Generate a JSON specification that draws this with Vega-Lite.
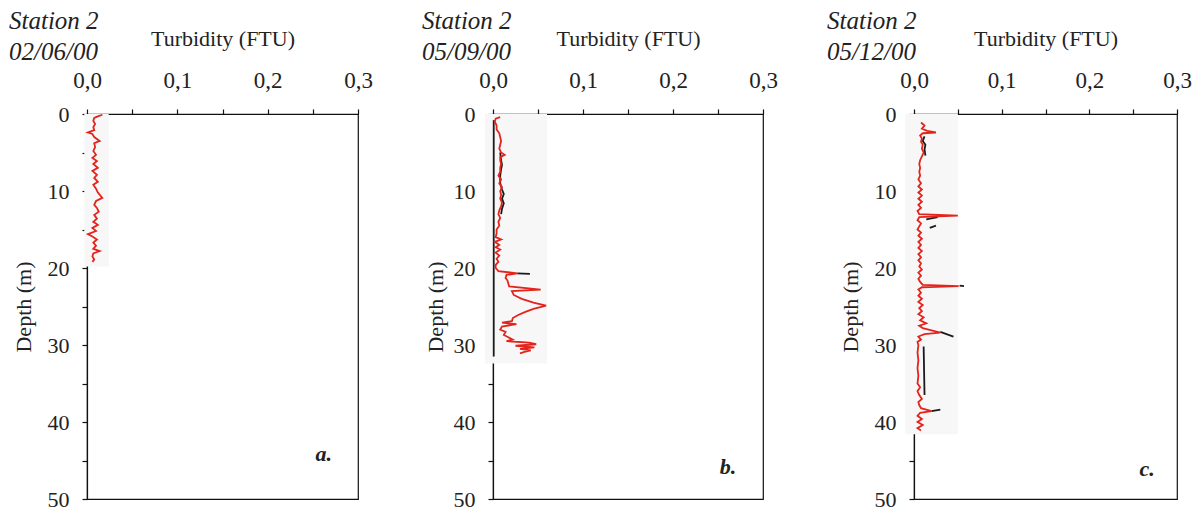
{
  "$schema": "https://vega.github.io/schema/vega-lite/v6.json",
  "padding": {"left": 8, "top": 8, "right": 0, "bottom": 2},
  "background": "white",
  "config": {
    "font": "Liberation Serif",
    "view": {"stroke": "#111", "strokeWidth": 1.2},
    "concat": {"spacing": 48},
    "title": {"font": "Liberation Serif", "fontStyle": "italic", "fontWeight": "normal", "fontSize": 25, "lineHeight": 31, "color": "#222", "anchor": "start", "frame": "group", "offset": -38},
    "axis": {
      "grid": false, "domainColor": "#111", "domainWidth": 1.2, "tickColor": "#111", "tickWidth": 1.2, "tickSize": 5,
      "labelFont": "Liberation Serif", "labelFontSize": 23, "labelColor": "#222", "labelFlush": false, "labelOverlap": false,
      "titleFont": "Liberation Serif", "titleFontSize": 22, "titleFontWeight": "normal", "titleColor": "#222"
    }
  },
  "datasets": {
    "profiles": [
      {"panel": "a", "series": "red", "seg": "r", "depth": 0.1, "turb": 0.017},
      {"panel": "a", "series": "red", "seg": "r", "depth": 0.3, "turb": 0.012},
      {"panel": "a", "series": "red", "seg": "r", "depth": 0.5, "turb": 0.008},
      {"panel": "a", "series": "red", "seg": "r", "depth": 0.9, "turb": 0.007},
      {"panel": "a", "series": "red", "seg": "r", "depth": 1.3, "turb": 0.009},
      {"panel": "a", "series": "red", "seg": "r", "depth": 1.7, "turb": 0.007},
      {"panel": "a", "series": "red", "seg": "r", "depth": 2.1, "turb": 0.008},
      {"panel": "a", "series": "red", "seg": "r", "depth": 2.4, "turb": 0.001},
      {"panel": "a", "series": "red", "seg": "r", "depth": 2.6, "turb": 0.006},
      {"panel": "a", "series": "red", "seg": "r", "depth": 3.0, "turb": 0.008},
      {"panel": "a", "series": "red", "seg": "r", "depth": 3.5, "turb": 0.014},
      {"panel": "a", "series": "red", "seg": "r", "depth": 3.8, "turb": 0.008},
      {"panel": "a", "series": "red", "seg": "r", "depth": 4.3, "turb": 0.009},
      {"panel": "a", "series": "red", "seg": "r", "depth": 4.8, "turb": 0.007},
      {"panel": "a", "series": "red", "seg": "r", "depth": 5.3, "turb": 0.010},
      {"panel": "a", "series": "red", "seg": "r", "depth": 5.7, "turb": 0.006},
      {"panel": "a", "series": "red", "seg": "r", "depth": 6.1, "turb": 0.011},
      {"panel": "a", "series": "red", "seg": "r", "depth": 6.5, "turb": 0.007},
      {"panel": "a", "series": "red", "seg": "r", "depth": 7.0, "turb": 0.012},
      {"panel": "a", "series": "red", "seg": "r", "depth": 7.4, "turb": 0.006},
      {"panel": "a", "series": "red", "seg": "r", "depth": 7.9, "turb": 0.011},
      {"panel": "a", "series": "red", "seg": "r", "depth": 8.3, "turb": 0.008},
      {"panel": "a", "series": "red", "seg": "r", "depth": 8.8, "turb": 0.012},
      {"panel": "a", "series": "red", "seg": "r", "depth": 9.2, "turb": 0.007},
      {"panel": "a", "series": "red", "seg": "r", "depth": 9.7, "turb": 0.010},
      {"panel": "a", "series": "red", "seg": "r", "depth": 10.2, "turb": 0.012},
      {"panel": "a", "series": "red", "seg": "r", "depth": 10.9, "turb": 0.017},
      {"panel": "a", "series": "red", "seg": "r", "depth": 11.3, "turb": 0.010},
      {"panel": "a", "series": "red", "seg": "r", "depth": 11.8, "turb": 0.008},
      {"panel": "a", "series": "red", "seg": "r", "depth": 12.2, "turb": 0.011},
      {"panel": "a", "series": "red", "seg": "r", "depth": 12.7, "turb": 0.013},
      {"panel": "a", "series": "red", "seg": "r", "depth": 13.1, "turb": 0.008},
      {"panel": "a", "series": "red", "seg": "r", "depth": 13.6, "turb": 0.011},
      {"panel": "a", "series": "red", "seg": "r", "depth": 14.0, "turb": 0.007},
      {"panel": "a", "series": "red", "seg": "r", "depth": 14.4, "turb": 0.012},
      {"panel": "a", "series": "red", "seg": "r", "depth": 14.8, "turb": 0.006},
      {"panel": "a", "series": "red", "seg": "r", "depth": 15.2, "turb": 0.010},
      {"panel": "a", "series": "red", "seg": "r", "depth": 15.6, "turb": 0.001},
      {"panel": "a", "series": "red", "seg": "r", "depth": 15.9, "turb": 0.006},
      {"panel": "a", "series": "red", "seg": "r", "depth": 16.3, "turb": 0.011},
      {"panel": "a", "series": "red", "seg": "r", "depth": 16.7, "turb": 0.007},
      {"panel": "a", "series": "red", "seg": "r", "depth": 17.1, "turb": 0.010},
      {"panel": "a", "series": "red", "seg": "r", "depth": 17.5, "turb": 0.007},
      {"panel": "a", "series": "red", "seg": "r", "depth": 17.8, "turb": 0.014},
      {"panel": "a", "series": "red", "seg": "r", "depth": 18.1, "turb": 0.007},
      {"panel": "a", "series": "red", "seg": "r", "depth": 18.5, "turb": 0.006},
      {"panel": "a", "series": "red", "seg": "r", "depth": 18.9, "turb": 0.008},
      {"panel": "a", "series": "red", "seg": "r", "depth": 19.2, "turb": 0.006},

      {"panel": "b", "series": "black", "seg": "b1", "depth": 5.0, "turb": 0.008},
      {"panel": "b", "series": "black", "seg": "b1", "depth": 6.0, "turb": 0.009},
      {"panel": "b", "series": "black", "seg": "b1", "depth": 6.6, "turb": 0.010},
      {"panel": "b", "series": "black", "seg": "b1", "depth": 7.2, "turb": 0.009},
      {"panel": "b", "series": "black", "seg": "b1", "depth": 8.0, "turb": 0.008},
      {"panel": "b", "series": "black", "seg": "b1", "depth": 9.0, "turb": 0.008},
      {"panel": "b", "series": "black", "seg": "b1", "depth": 9.8, "turb": 0.010},
      {"panel": "b", "series": "black", "seg": "b1", "depth": 10.4, "turb": 0.012},
      {"panel": "b", "series": "black", "seg": "b1", "depth": 11.0, "turb": 0.010},
      {"panel": "b", "series": "black", "seg": "b1", "depth": 11.6, "turb": 0.012},
      {"panel": "b", "series": "black", "seg": "b1", "depth": 12.3, "turb": 0.010},
      {"panel": "b", "series": "black", "seg": "b1", "depth": 13.0, "turb": 0.009},
      {"panel": "b", "series": "black", "seg": "b2", "depth": 0.8, "turb": 0.0008},
      {"panel": "b", "series": "black", "seg": "b2", "depth": 31.5, "turb": 0.0008},
      {"panel": "b", "series": "black", "seg": "b3", "depth": 20.7, "turb": 0.027},
      {"panel": "b", "series": "black", "seg": "b3", "depth": 20.75, "turb": 0.041},

      {"panel": "b", "series": "red", "seg": "r", "depth": 0.4, "turb": 0.008},
      {"panel": "b", "series": "red", "seg": "r", "depth": 0.6, "turb": 0.003},
      {"panel": "b", "series": "red", "seg": "r", "depth": 1.0, "turb": 0.002},
      {"panel": "b", "series": "red", "seg": "r", "depth": 1.5, "turb": 0.004},
      {"panel": "b", "series": "red", "seg": "r", "depth": 2.0, "turb": 0.004},
      {"panel": "b", "series": "red", "seg": "r", "depth": 2.5, "turb": 0.007},
      {"panel": "b", "series": "red", "seg": "r", "depth": 3.0, "turb": 0.008},
      {"panel": "b", "series": "red", "seg": "r", "depth": 3.5, "turb": 0.009},
      {"panel": "b", "series": "red", "seg": "r", "depth": 4.0, "turb": 0.008},
      {"panel": "b", "series": "red", "seg": "r", "depth": 4.5, "turb": 0.007},
      {"panel": "b", "series": "red", "seg": "r", "depth": 5.0, "turb": 0.009},
      {"panel": "b", "series": "red", "seg": "r", "depth": 5.3, "turb": 0.013},
      {"panel": "b", "series": "red", "seg": "r", "depth": 5.6, "turb": 0.008},
      {"panel": "b", "series": "red", "seg": "r", "depth": 6.0, "turb": 0.008},
      {"panel": "b", "series": "red", "seg": "r", "depth": 6.5, "turb": 0.009},
      {"panel": "b", "series": "red", "seg": "r", "depth": 7.0, "turb": 0.008},
      {"panel": "b", "series": "red", "seg": "r", "depth": 7.5, "turb": 0.008},
      {"panel": "b", "series": "red", "seg": "r", "depth": 8.0, "turb": 0.006},
      {"panel": "b", "series": "red", "seg": "r", "depth": 8.5, "turb": 0.009},
      {"panel": "b", "series": "red", "seg": "r", "depth": 9.0, "turb": 0.007},
      {"panel": "b", "series": "red", "seg": "r", "depth": 9.5, "turb": 0.010},
      {"panel": "b", "series": "red", "seg": "r", "depth": 10.0, "turb": 0.008},
      {"panel": "b", "series": "red", "seg": "r", "depth": 10.5, "turb": 0.009},
      {"panel": "b", "series": "red", "seg": "r", "depth": 11.0, "turb": 0.008},
      {"panel": "b", "series": "red", "seg": "r", "depth": 11.5, "turb": 0.010},
      {"panel": "b", "series": "red", "seg": "r", "depth": 12.0, "turb": 0.009},
      {"panel": "b", "series": "red", "seg": "r", "depth": 12.5, "turb": 0.007},
      {"panel": "b", "series": "red", "seg": "r", "depth": 13.0, "turb": 0.006},
      {"panel": "b", "series": "red", "seg": "r", "depth": 13.5, "turb": 0.008},
      {"panel": "b", "series": "red", "seg": "r", "depth": 14.0, "turb": 0.006},
      {"panel": "b", "series": "red", "seg": "r", "depth": 14.5, "turb": 0.007},
      {"panel": "b", "series": "red", "seg": "r", "depth": 15.0, "turb": 0.004},
      {"panel": "b", "series": "red", "seg": "r", "depth": 15.5, "turb": 0.004},
      {"panel": "b", "series": "red", "seg": "r", "depth": 16.0, "turb": 0.003},
      {"panel": "b", "series": "red", "seg": "r", "depth": 16.3, "turb": 0.009},
      {"panel": "b", "series": "red", "seg": "r", "depth": 16.6, "turb": 0.002},
      {"panel": "b", "series": "red", "seg": "r", "depth": 17.0, "turb": 0.007},
      {"panel": "b", "series": "red", "seg": "r", "depth": 17.3, "turb": 0.003},
      {"panel": "b", "series": "red", "seg": "r", "depth": 17.6, "turb": 0.008},
      {"panel": "b", "series": "red", "seg": "r", "depth": 18.0, "turb": 0.003},
      {"panel": "b", "series": "red", "seg": "r", "depth": 18.4, "turb": 0.007},
      {"panel": "b", "series": "red", "seg": "r", "depth": 18.8, "turb": 0.004},
      {"panel": "b", "series": "red", "seg": "r", "depth": 19.2, "turb": 0.006},
      {"panel": "b", "series": "red", "seg": "r", "depth": 19.6, "turb": 0.003},
      {"panel": "b", "series": "red", "seg": "r", "depth": 20.0, "turb": 0.003},
      {"panel": "b", "series": "red", "seg": "r", "depth": 20.4, "turb": 0.006},
      {"panel": "b", "series": "red", "seg": "r", "depth": 20.7, "turb": 0.027},
      {"panel": "b", "series": "red", "seg": "r", "depth": 20.9, "turb": 0.015},
      {"panel": "b", "series": "red", "seg": "r", "depth": 21.3, "turb": 0.014},
      {"panel": "b", "series": "red", "seg": "r", "depth": 21.6, "turb": 0.016},
      {"panel": "b", "series": "red", "seg": "r", "depth": 22.0, "turb": 0.017},
      {"panel": "b", "series": "red", "seg": "r", "depth": 22.4, "turb": 0.018},
      {"panel": "b", "series": "red", "seg": "r", "depth": 22.8, "turb": 0.053},
      {"panel": "b", "series": "red", "seg": "r", "depth": 23.0, "turb": 0.021},
      {"panel": "b", "series": "red", "seg": "r", "depth": 23.5, "turb": 0.023},
      {"panel": "b", "series": "red", "seg": "r", "depth": 24.0, "turb": 0.032},
      {"panel": "b", "series": "red", "seg": "r", "depth": 24.5, "turb": 0.045},
      {"panel": "b", "series": "red", "seg": "r", "depth": 24.9, "turb": 0.059},
      {"panel": "b", "series": "red", "seg": "r", "depth": 25.3, "turb": 0.045},
      {"panel": "b", "series": "red", "seg": "r", "depth": 25.7, "turb": 0.036},
      {"panel": "b", "series": "red", "seg": "r", "depth": 26.1, "turb": 0.028},
      {"panel": "b", "series": "red", "seg": "r", "depth": 26.5, "turb": 0.022},
      {"panel": "b", "series": "red", "seg": "r", "depth": 26.9, "turb": 0.021},
      {"panel": "b", "series": "red", "seg": "r", "depth": 27.1, "turb": 0.010},
      {"panel": "b", "series": "red", "seg": "r", "depth": 27.3, "turb": 0.026},
      {"panel": "b", "series": "red", "seg": "r", "depth": 27.6, "turb": 0.010},
      {"panel": "b", "series": "red", "seg": "r", "depth": 28.0, "turb": 0.008},
      {"panel": "b", "series": "red", "seg": "r", "depth": 28.3, "turb": 0.014},
      {"panel": "b", "series": "red", "seg": "r", "depth": 28.7, "turb": 0.012},
      {"panel": "b", "series": "red", "seg": "r", "depth": 29.0, "turb": 0.017},
      {"panel": "b", "series": "red", "seg": "r", "depth": 29.3, "turb": 0.022},
      {"panel": "b", "series": "red", "seg": "r", "depth": 29.5, "turb": 0.015},
      {"panel": "b", "series": "red", "seg": "r", "depth": 29.7, "turb": 0.040},
      {"panel": "b", "series": "red", "seg": "r", "depth": 29.9, "turb": 0.048},
      {"panel": "b", "series": "red", "seg": "r", "depth": 30.1, "turb": 0.025},
      {"panel": "b", "series": "red", "seg": "r", "depth": 30.3, "turb": 0.046},
      {"panel": "b", "series": "red", "seg": "r", "depth": 30.5, "turb": 0.030},
      {"panel": "b", "series": "red", "seg": "r", "depth": 30.7, "turb": 0.042},
      {"panel": "b", "series": "red", "seg": "r", "depth": 30.9, "turb": 0.035},
      {"panel": "b", "series": "red", "seg": "r", "depth": 31.1, "turb": 0.030},

      {"panel": "c", "series": "black", "seg": "c1", "depth": 2.9, "turb": 0.012},
      {"panel": "c", "series": "black", "seg": "c1", "depth": 3.5, "turb": 0.010},
      {"panel": "c", "series": "black", "seg": "c1", "depth": 4.0, "turb": 0.013},
      {"panel": "c", "series": "black", "seg": "c1", "depth": 4.6, "turb": 0.012},
      {"panel": "c", "series": "black", "seg": "c1", "depth": 5.4, "turb": 0.013},
      {"panel": "c", "series": "black", "seg": "c2", "depth": 13.4, "turb": 0.027},
      {"panel": "c", "series": "black", "seg": "c2", "depth": 13.7, "turb": 0.014},
      {"panel": "c", "series": "black", "seg": "c3", "depth": 14.5, "turb": 0.025},
      {"panel": "c", "series": "black", "seg": "c3", "depth": 14.8, "turb": 0.018},
      {"panel": "c", "series": "black", "seg": "c4", "depth": 22.3, "turb": 0.052},
      {"panel": "c", "series": "black", "seg": "c4", "depth": 22.35, "turb": 0.057},
      {"panel": "c", "series": "black", "seg": "c5", "depth": 28.3, "turb": 0.030},
      {"panel": "c", "series": "black", "seg": "c5", "depth": 28.9, "turb": 0.045},
      {"panel": "c", "series": "black", "seg": "c6", "depth": 30.2, "turb": 0.011},
      {"panel": "c", "series": "black", "seg": "c6", "depth": 36.5, "turb": 0.012},
      {"panel": "c", "series": "black", "seg": "c7", "depth": 38.4, "turb": 0.030},
      {"panel": "c", "series": "black", "seg": "c7", "depth": 38.6, "turb": 0.020},

      {"panel": "c", "series": "red", "seg": "r", "depth": 1.1, "turb": 0.008},
      {"panel": "c", "series": "red", "seg": "r", "depth": 1.5, "turb": 0.012},
      {"panel": "c", "series": "red", "seg": "r", "depth": 1.9, "turb": 0.009},
      {"panel": "c", "series": "red", "seg": "r", "depth": 2.2, "turb": 0.015},
      {"panel": "c", "series": "red", "seg": "r", "depth": 2.4, "turb": 0.025},
      {"panel": "c", "series": "red", "seg": "r", "depth": 2.5, "turb": 0.010},
      {"panel": "c", "series": "red", "seg": "r", "depth": 2.8, "turb": 0.007},
      {"panel": "c", "series": "red", "seg": "r", "depth": 3.2, "turb": 0.009},
      {"panel": "c", "series": "red", "seg": "r", "depth": 3.6, "turb": 0.008},
      {"panel": "c", "series": "red", "seg": "r", "depth": 4.0, "turb": 0.010},
      {"panel": "c", "series": "red", "seg": "r", "depth": 4.5, "turb": 0.009},
      {"panel": "c", "series": "red", "seg": "r", "depth": 5.0, "turb": 0.011},
      {"panel": "c", "series": "red", "seg": "r", "depth": 5.5, "turb": 0.009},
      {"panel": "c", "series": "red", "seg": "r", "depth": 6.0, "turb": 0.007},
      {"panel": "c", "series": "red", "seg": "r", "depth": 6.5, "turb": 0.006},
      {"panel": "c", "series": "red", "seg": "r", "depth": 7.0, "turb": 0.007},
      {"panel": "c", "series": "red", "seg": "r", "depth": 7.5, "turb": 0.006},
      {"panel": "c", "series": "red", "seg": "r", "depth": 8.0, "turb": 0.007},
      {"panel": "c", "series": "red", "seg": "r", "depth": 8.5, "turb": 0.005},
      {"panel": "c", "series": "red", "seg": "r", "depth": 9.0, "turb": 0.008},
      {"panel": "c", "series": "red", "seg": "r", "depth": 9.4, "turb": 0.005},
      {"panel": "c", "series": "red", "seg": "r", "depth": 9.8, "turb": 0.009},
      {"panel": "c", "series": "red", "seg": "r", "depth": 10.2, "turb": 0.005},
      {"panel": "c", "series": "red", "seg": "r", "depth": 10.6, "turb": 0.009},
      {"panel": "c", "series": "red", "seg": "r", "depth": 11.0, "turb": 0.005},
      {"panel": "c", "series": "red", "seg": "r", "depth": 11.4, "turb": 0.009},
      {"panel": "c", "series": "red", "seg": "r", "depth": 11.8, "turb": 0.005},
      {"panel": "c", "series": "red", "seg": "r", "depth": 12.2, "turb": 0.008},
      {"panel": "c", "series": "red", "seg": "r", "depth": 12.6, "turb": 0.004},
      {"panel": "c", "series": "red", "seg": "r", "depth": 13.0, "turb": 0.006},
      {"panel": "c", "series": "red", "seg": "r", "depth": 13.2, "turb": 0.050},
      {"panel": "c", "series": "red", "seg": "r", "depth": 13.4, "turb": 0.006},
      {"panel": "c", "series": "red", "seg": "r", "depth": 13.8, "turb": 0.004},
      {"panel": "c", "series": "red", "seg": "r", "depth": 14.2, "turb": 0.008},
      {"panel": "c", "series": "red", "seg": "r", "depth": 14.6, "turb": 0.006},
      {"panel": "c", "series": "red", "seg": "r", "depth": 15.0, "turb": 0.004},
      {"panel": "c", "series": "red", "seg": "r", "depth": 15.4, "turb": 0.008},
      {"panel": "c", "series": "red", "seg": "r", "depth": 15.8, "turb": 0.005},
      {"panel": "c", "series": "red", "seg": "r", "depth": 16.2, "turb": 0.009},
      {"panel": "c", "series": "red", "seg": "r", "depth": 16.6, "turb": 0.005},
      {"panel": "c", "series": "red", "seg": "r", "depth": 17.0, "turb": 0.008},
      {"panel": "c", "series": "red", "seg": "r", "depth": 17.4, "turb": 0.005},
      {"panel": "c", "series": "red", "seg": "r", "depth": 17.8, "turb": 0.009},
      {"panel": "c", "series": "red", "seg": "r", "depth": 18.2, "turb": 0.005},
      {"panel": "c", "series": "red", "seg": "r", "depth": 18.6, "turb": 0.008},
      {"panel": "c", "series": "red", "seg": "r", "depth": 19.0, "turb": 0.005},
      {"panel": "c", "series": "red", "seg": "r", "depth": 19.4, "turb": 0.008},
      {"panel": "c", "series": "red", "seg": "r", "depth": 19.8, "turb": 0.006},
      {"panel": "c", "series": "red", "seg": "r", "depth": 20.2, "turb": 0.009},
      {"panel": "c", "series": "red", "seg": "r", "depth": 20.6, "turb": 0.005},
      {"panel": "c", "series": "red", "seg": "r", "depth": 21.0, "turb": 0.008},
      {"panel": "c", "series": "red", "seg": "r", "depth": 21.4, "turb": 0.005},
      {"panel": "c", "series": "red", "seg": "r", "depth": 21.8, "turb": 0.007},
      {"panel": "c", "series": "red", "seg": "r", "depth": 22.2, "turb": 0.010},
      {"panel": "c", "series": "red", "seg": "r", "depth": 22.35, "turb": 0.051},
      {"panel": "c", "series": "red", "seg": "r", "depth": 22.5, "turb": 0.009},
      {"panel": "c", "series": "red", "seg": "r", "depth": 22.8, "turb": 0.005},
      {"panel": "c", "series": "red", "seg": "r", "depth": 23.2, "turb": 0.008},
      {"panel": "c", "series": "red", "seg": "r", "depth": 23.6, "turb": 0.005},
      {"panel": "c", "series": "red", "seg": "r", "depth": 24.0, "turb": 0.009},
      {"panel": "c", "series": "red", "seg": "r", "depth": 24.4, "turb": 0.005},
      {"panel": "c", "series": "red", "seg": "r", "depth": 24.8, "turb": 0.010},
      {"panel": "c", "series": "red", "seg": "r", "depth": 25.2, "turb": 0.006},
      {"panel": "c", "series": "red", "seg": "r", "depth": 25.6, "turb": 0.009},
      {"panel": "c", "series": "red", "seg": "r", "depth": 26.0, "turb": 0.005},
      {"panel": "c", "series": "red", "seg": "r", "depth": 26.4, "turb": 0.011},
      {"panel": "c", "series": "red", "seg": "r", "depth": 26.8, "turb": 0.007},
      {"panel": "c", "series": "red", "seg": "r", "depth": 27.2, "turb": 0.014},
      {"panel": "c", "series": "red", "seg": "r", "depth": 27.5, "turb": 0.006},
      {"panel": "c", "series": "red", "seg": "r", "depth": 27.8, "turb": 0.010},
      {"panel": "c", "series": "red", "seg": "r", "depth": 28.1, "turb": 0.020},
      {"panel": "c", "series": "red", "seg": "r", "depth": 28.4, "turb": 0.030},
      {"panel": "c", "series": "red", "seg": "r", "depth": 28.6, "turb": 0.012},
      {"panel": "c", "series": "red", "seg": "r", "depth": 28.9, "turb": 0.005},
      {"panel": "c", "series": "red", "seg": "r", "depth": 29.3, "turb": 0.008},
      {"panel": "c", "series": "red", "seg": "r", "depth": 29.6, "turb": 0.004},
      {"panel": "c", "series": "red", "seg": "r", "depth": 30.0, "turb": 0.005},
      {"panel": "c", "series": "red", "seg": "r", "depth": 31.0, "turb": 0.004},
      {"panel": "c", "series": "red", "seg": "r", "depth": 32.0, "turb": 0.005},
      {"panel": "c", "series": "red", "seg": "r", "depth": 33.0, "turb": 0.004},
      {"panel": "c", "series": "red", "seg": "r", "depth": 34.0, "turb": 0.005},
      {"panel": "c", "series": "red", "seg": "r", "depth": 35.0, "turb": 0.004},
      {"panel": "c", "series": "red", "seg": "r", "depth": 35.5, "turb": 0.007},
      {"panel": "c", "series": "red", "seg": "r", "depth": 36.0, "turb": 0.004},
      {"panel": "c", "series": "red", "seg": "r", "depth": 36.5, "turb": 0.006},
      {"panel": "c", "series": "red", "seg": "r", "depth": 37.0, "turb": 0.009},
      {"panel": "c", "series": "red", "seg": "r", "depth": 37.4, "turb": 0.005},
      {"panel": "c", "series": "red", "seg": "r", "depth": 37.8, "turb": 0.006},
      {"panel": "c", "series": "red", "seg": "r", "depth": 38.2, "turb": 0.008},
      {"panel": "c", "series": "red", "seg": "r", "depth": 38.6, "turb": 0.020},
      {"panel": "c", "series": "red", "seg": "r", "depth": 38.8, "turb": 0.007},
      {"panel": "c", "series": "red", "seg": "r", "depth": 39.2, "turb": 0.004},
      {"panel": "c", "series": "red", "seg": "r", "depth": 39.6, "turb": 0.009},
      {"panel": "c", "series": "red", "seg": "r", "depth": 40.0, "turb": 0.004},
      {"panel": "c", "series": "red", "seg": "r", "depth": 40.4, "turb": 0.010},
      {"panel": "c", "series": "red", "seg": "r", "depth": 40.8, "turb": 0.004},
      {"panel": "c", "series": "red", "seg": "r", "depth": 41.1, "turb": 0.008}
    ],
    "shade": [
      {"panel": "a", "turb": -0.003, "turb2": 0.024, "depth": 0, "depth2": 19.8},
      {"panel": "b", "turb": -0.009, "turb2": 0.060, "depth": 0, "depth2": 32.4},
      {"panel": "c", "turb": -0.010, "turb2": 0.050, "depth": 0, "depth2": 41.6}
    ],
    "tags": [
      {"panel": "a", "turb": 0.262, "depth": 44.2, "tag": "a."},
      {"panel": "b", "turb": 0.261, "depth": 45.9, "tag": "b."},
      {"panel": "c", "turb": 0.266, "depth": 46.1, "tag": "c."}
    ]
  },
  "hconcat": [
    {
      "width": 271, "height": 385,
      "title": {"text": ["Station 2", "02/06/00"], "dx": -78},
      "encoding": {
        "x": {"field": "turb", "type": "quantitative", "scale": {"domain": [0, 0.3], "nice": false, "zero": false},
              "axis": {"orient": "top", "title": "Turbidity (FTU)", "values": [0, 0.05, 0.1, 0.15, 0.2, 0.25, 0.3], "labelExpr": "round(datum.value*100) % 10 == 0 ? replace(format(datum.value, '.1f'), '.', ',') : ''", "labelPadding": 17, "titlePadding": 19}},
        "y": {"field": "depth", "type": "quantitative", "scale": {"domain": [0, 50], "reverse": true, "nice": false, "zero": false},
              "axis": {"title": "Depth (m)", "values": [0, 5, 10, 15, 20, 25, 30, 35, 40, 45, 50], "labelExpr": "datum.value % 10 == 0 ? datum.label : ''", "labelFontSize": 22, "labelPadding": 13, "titlePadding": 12}}
      },
      "layer": [
        {"data": {"name": "shade"}, "transform": [{"filter": "datum.panel == 'a'"}], "mark": {"type": "rect", "color": "#f7f7f7"}, "encoding": {"x2": {"field": "turb2"}, "y2": {"field": "depth2"}}},
        {"data": {"name": "profiles"}, "transform": [{"filter": "datum.panel == 'a' && datum.series == 'red'"}], "mark": {"type": "line", "color": "#e3241d", "strokeWidth": 1.8}, "encoding": {"order": {"field": "depth", "type": "quantitative"}}},
        {"data": {"name": "tags"}, "transform": [{"filter": "datum.panel == 'a'"}], "mark": {"type": "text", "font": "Liberation Serif", "fontStyle": "italic", "fontWeight": "bold", "fontSize": 22, "color": "#222"}, "encoding": {"text": {"field": "tag"}}}
      ]
    },
    {
      "width": 270, "height": 385,
      "title": {"text": ["Station 2", "05/09/00"], "dx": -71},
      "encoding": {
        "x": {"field": "turb", "type": "quantitative", "scale": {"domain": [0, 0.3], "nice": false, "zero": false},
              "axis": {"orient": "top", "title": "Turbidity (FTU)", "values": [0, 0.05, 0.1, 0.15, 0.2, 0.25, 0.3], "labelExpr": "round(datum.value*100) % 10 == 0 ? replace(format(datum.value, '.1f'), '.', ',') : ''", "labelPadding": 17, "titlePadding": 19}},
        "y": {"field": "depth", "type": "quantitative", "scale": {"domain": [0, 50], "reverse": true, "nice": false, "zero": false},
              "axis": {"title": "Depth (m)", "values": [0, 5, 10, 15, 20, 25, 30, 35, 40, 45, 50], "labelExpr": "datum.value % 10 == 0 ? datum.label : ''", "labelFontSize": 22, "labelPadding": 13, "titlePadding": 6}}
      },
      "layer": [
        {"data": {"name": "shade"}, "transform": [{"filter": "datum.panel == 'b'"}], "mark": {"type": "rect", "color": "#f7f7f7"}, "encoding": {"x2": {"field": "turb2"}, "y2": {"field": "depth2"}}},
        {"data": {"name": "profiles"}, "transform": [{"filter": "datum.panel == 'b' && datum.series == 'black'"}], "mark": {"type": "line", "color": "#1a1a1a", "strokeWidth": 1.8}, "encoding": {"detail": {"field": "seg"}, "order": {"field": "depth", "type": "quantitative"}}},
        {"data": {"name": "profiles"}, "transform": [{"filter": "datum.panel == 'b' && datum.series == 'red'"}], "mark": {"type": "line", "color": "#e3241d", "strokeWidth": 1.8}, "encoding": {"order": {"field": "depth", "type": "quantitative"}}},
        {"data": {"name": "tags"}, "transform": [{"filter": "datum.panel == 'b'"}], "mark": {"type": "text", "font": "Liberation Serif", "fontStyle": "italic", "fontWeight": "bold", "fontSize": 22, "color": "#222"}, "encoding": {"text": {"field": "tag"}}}
      ]
    },
    {
      "width": 263, "height": 385,
      "title": {"text": ["Station 2", "05/12/00"], "dx": -87},
      "encoding": {
        "x": {"field": "turb", "type": "quantitative", "scale": {"domain": [0, 0.3], "nice": false, "zero": false},
              "axis": {"orient": "top", "title": "Turbidity (FTU)", "values": [0, 0.05, 0.1, 0.15, 0.2, 0.25, 0.3], "labelExpr": "round(datum.value*100) % 10 == 0 ? replace(format(datum.value, '.1f'), '.', ',') : ''", "labelPadding": 17, "titlePadding": 19}},
        "y": {"field": "depth", "type": "quantitative", "scale": {"domain": [0, 50], "reverse": true, "nice": false, "zero": false},
              "axis": {"title": "Depth (m)", "values": [0, 5, 10, 15, 20, 25, 30, 35, 40, 45, 50], "labelExpr": "datum.value % 10 == 0 ? datum.label : ''", "labelFontSize": 22, "labelPadding": 13, "titlePadding": 12}}
      },
      "layer": [
        {"data": {"name": "shade"}, "transform": [{"filter": "datum.panel == 'c'"}], "mark": {"type": "rect", "color": "#f7f7f7"}, "encoding": {"x2": {"field": "turb2"}, "y2": {"field": "depth2"}}},
        {"data": {"name": "profiles"}, "transform": [{"filter": "datum.panel == 'c' && datum.series == 'black'"}], "mark": {"type": "line", "color": "#1a1a1a", "strokeWidth": 1.8}, "encoding": {"detail": {"field": "seg"}, "order": {"field": "depth", "type": "quantitative"}}},
        {"data": {"name": "profiles"}, "transform": [{"filter": "datum.panel == 'c' && datum.series == 'red'"}], "mark": {"type": "line", "color": "#e3241d", "strokeWidth": 1.8}, "encoding": {"order": {"field": "depth", "type": "quantitative"}}},
        {"data": {"name": "tags"}, "transform": [{"filter": "datum.panel == 'c'"}], "mark": {"type": "text", "font": "Liberation Serif", "fontStyle": "italic", "fontWeight": "bold", "fontSize": 22, "color": "#222"}, "encoding": {"text": {"field": "tag"}}}
      ]
    }
  ]
}
